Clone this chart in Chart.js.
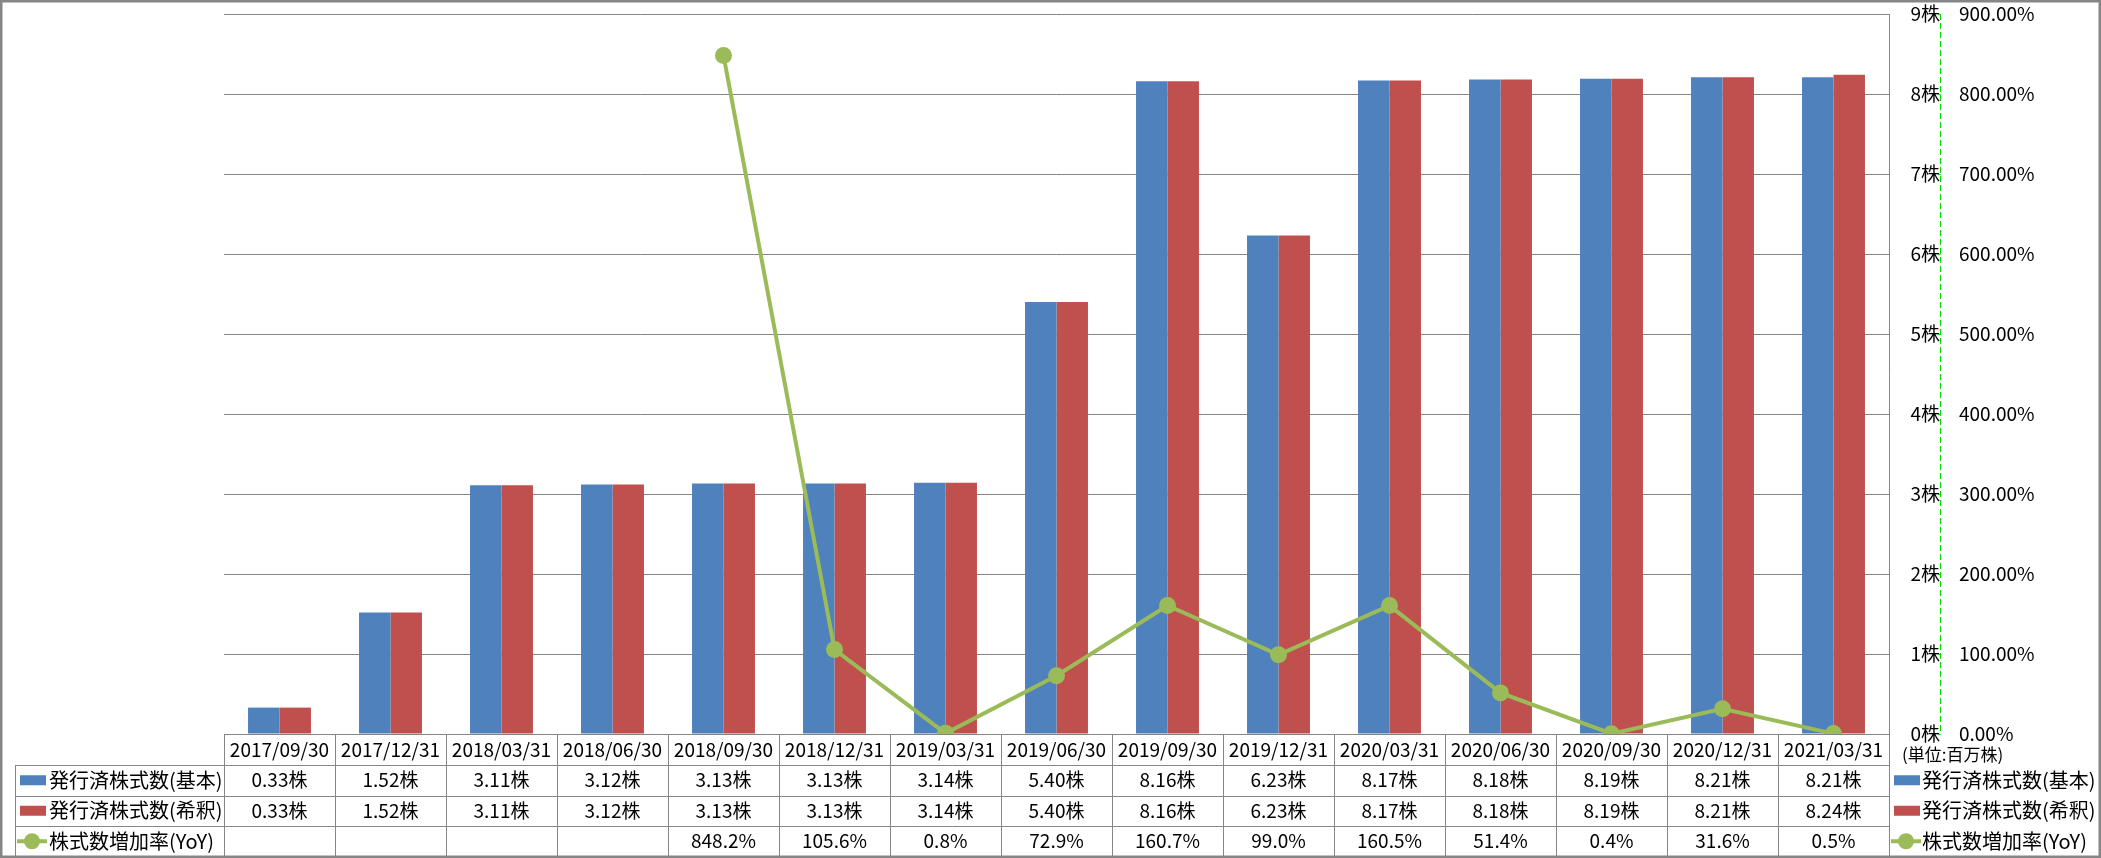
<!DOCTYPE html>
<html>
<head>
<meta charset="utf-8">
<script src="https://cdn.jsdelivr.net/npm/chart.js@4/dist/chart.umd.min.js"></script>
<style>
  body { margin: 0; background: #fff; }
  canvas { display: block; }
</style>
</head>
<body>
<canvas id="chart" width="2101" height="858"></canvas>
<script>
// data
const categories = ['2017/09/30', '2017/12/31', '2018/03/31', '2018/06/30', '2018/09/30',
  '2018/12/31', '2019/03/31', '2019/06/30', '2019/09/30', '2019/12/31',
  '2020/03/31', '2020/06/30', '2020/09/30', '2020/12/31', '2021/03/31'];
const basicShares = [0.33, 1.52, 3.11, 3.12, 3.13, 3.13, 3.14, 5.40, 8.16, 6.23, 8.17, 8.18, 8.19, 8.21, 8.21];
const dilutedShares = [0.33, 1.52, 3.11, 3.12, 3.13, 3.13, 3.14, 5.40, 8.16, 6.23, 8.17, 8.18, 8.19, 8.21, 8.24];
const yoyGrowth = [null, null, null, null, 848.2, 105.6, 0.8, 72.9, 160.7, 99.0, 160.5, 51.4, 0.4, 31.6, 0.5];
const seriesNames = ['発行済株式数(基本)', '発行済株式数(希釈)', '株式数増加率(YoY)'];
const unitLabel = '(単位:百万株)';

const BLUE = '#4F81BD';
const RED = '#C0504D';
const GREEN = '#9BBB59';
const AXIS_GREEN = '#00dd00';
const GRID = '#868686';
const FONT = '"Noto Sans CJK JP", "Noto Sans", sans-serif';
const FONT_SIZE = 19;
const ROW_H = 30.5;

// small legend swatch, bar or line with marker
function drawKey(ctx, kind, x, y) {
  if (kind === 2) {
    ctx.strokeStyle = GREEN;
    ctx.lineWidth = 4;
    ctx.beginPath();
    ctx.moveTo(x - 3, y);
    ctx.lineTo(x + 27, y);
    ctx.stroke();
    ctx.fillStyle = GREEN;
    ctx.beginPath();
    ctx.arc(x + 12, y, 8, 0, Math.PI * 2);
    ctx.fill();
  } else {
    ctx.fillStyle = kind === 0 ? BLUE : RED;
    ctx.fillRect(x, y - 5, 26, 10);
  }
}

// data table under the plot + legend on the right, frame round everything
const dataTable = {
  id: 'dataTable',
  afterDraw(chart) {
    const ctx = chart.ctx;
    const x = chart.scales.x;
    const y1 = chart.scales.y1;
    const n = categories.length;
    const colW = (x.right - x.left) / n;
    const axisY = chart.chartArea.bottom;
    const top = x.bottom;
    const bottom = top + ROW_H * 3;
    const left = 15;

    ctx.save();
    // dashed secondary axis line with short ticks on its left
    const ax = Math.round(y1.left) + 0.5;
    ctx.strokeStyle = AXIS_GREEN;
    ctx.lineWidth = 1;
    ctx.setLineDash([6, 3]);
    ctx.beginPath();
    ctx.moveTo(ax, y1.top);
    ctx.lineTo(ax, y1.bottom);
    ctx.stroke();
    ctx.setLineDash([]);
    ctx.beginPath();
    y1.ticks.forEach(t => {
      const ty = Math.round(y1.getPixelForValue(t.value)) + 0.5;
      ctx.moveTo(ax - 3, ty);
      ctx.lineTo(ax, ty);
    });
    ctx.stroke();

    ctx.strokeStyle = GRID;
    ctx.beginPath();
    // header row verticals
    for (let i = 0; i <= n; i++) {
      const cx = Math.round(x.left + i * colW) + 0.5;
      ctx.moveTo(cx, axisY);
      ctx.lineTo(cx, bottom);
    }
    ctx.moveTo(left + 0.5, top);
    ctx.lineTo(left + 0.5, bottom);
    for (let r = 0; r <= 3; r++) {
      const ry = Math.round(top + r * ROW_H) + 0.5;
      ctx.moveTo(left, ry);
      ctx.lineTo(x.right + 1, ry);
    }
    ctx.stroke();

    const rows = [
      basicShares.map(v => v.toFixed(2) + '株'),
      dilutedShares.map(v => v.toFixed(2) + '株'),
      yoyGrowth.map(v => v === null ? '' : v.toFixed(1) + '%')
    ];
    ctx.textBaseline = 'middle';
    rows.forEach((row, r) => {
      const cy = top + r * ROW_H + ROW_H / 2;
      ctx.font = FONT_SIZE + 'px ' + FONT;
      ctx.fillStyle = '#000';
      ctx.textAlign = 'center';
      row.forEach((txt, i) => {
        ctx.fillText(txt, x.left + (i + 0.5) * colW, cy);
      });
      drawKey(ctx, r, 20, cy);
      ctx.font = '20px ' + FONT;
      ctx.fillStyle = '#000';
      ctx.textAlign = 'left';
      ctx.fillText(seriesNames[r], 49, cy);
      // legend at the right
      drawKey(ctx, r, 1894, cy);
      ctx.fillStyle = '#000';
      ctx.fillText(seriesNames[r], 1922, cy);
    });
    ctx.font = '17px ' + FONT;
    ctx.fillText(unitLabel, 1902, 755);

    ctx.strokeStyle = GRID;
    ctx.strokeRect(0.5, 0.5, chart.width - 1, chart.height - 1);
    ctx.restore();
  }
};

const tickFont = { family: FONT, size: FONT_SIZE };

new Chart(document.getElementById('chart'), {
  data: {
    labels: categories,
    datasets: [
      {
        type: 'line',
        label: seriesNames[2],
        data: yoyGrowth,
        yAxisID: 'y1',
        borderColor: GREEN,
        backgroundColor: GREEN,
        borderWidth: 4,
        pointRadius: 8.5,
        pointBorderWidth: 0,
        pointBackgroundColor: GREEN,
        tension: 0,
        order: 0
      },
      {
        type: 'bar',
        label: seriesNames[0],
        data: basicShares,
        yAxisID: 'y',
        backgroundColor: BLUE,
        categoryPercentage: 0.567,
        barPercentage: 1,
        order: 1
      },
      {
        type: 'bar',
        label: seriesNames[1],
        data: dilutedShares,
        yAxisID: 'y',
        backgroundColor: RED,
        categoryPercentage: 0.567,
        barPercentage: 1,
        order: 1
      }
    ]
  },
  options: {
    responsive: false,
    animation: false,
    events: [],
    layout: { padding: { left: 224, top: 14, right: 0, bottom: 93 } },
    plugins: { legend: { display: false }, tooltip: { enabled: false } },
    scales: {
      x: {
        position: 'bottom',
        offset: true,
        grid: { display: false, drawTicks: false },
        border: { display: true, color: GRID, width: 1 },
        ticks: { font: tickFont, color: '#000', padding: 4, maxRotation: 0, autoSkip: false },
        afterFit(scale) { scale.height = 31; }
      },
      y: {
        position: 'right',
        min: 0,
        max: 9,
        grid: { color: GRID, lineWidth: 1, drawTicks: true, tickLength: 19, tickColor: 'rgba(0,0,0,0)' },
        border: { display: true, color: GRID, width: 1 },
        ticks: {
          stepSize: 1,
          font: tickFont,
          color: '#000',
          crossAlign: 'far',
          padding: 0,
          callback: v => v + '株'
        },
        afterFit(scale) { scale.width = 51; }
      },
      y1: {
        position: 'right',
        min: 0,
        max: 900,
        grid: { drawOnChartArea: false, drawTicks: true, tickLength: 19, tickColor: 'rgba(0,0,0,0)' },
        border: { display: false },
        ticks: {
          stepSize: 100,
          font: tickFont,
          color: '#000',
          padding: 0,
          callback: v => v.toFixed(2) + '%'
        },
        afterFit(scale) { scale.width = 161; }
      }
    }
  },
  plugins: [dataTable]
});
</script>
</body>
</html>
